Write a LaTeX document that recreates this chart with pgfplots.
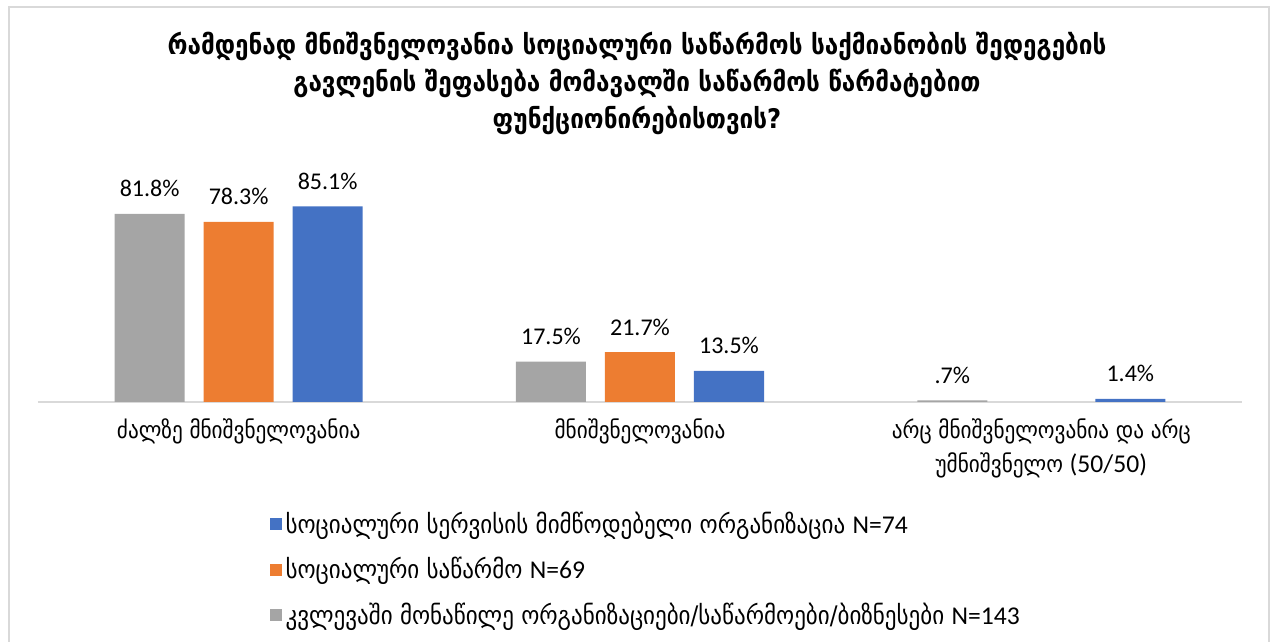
\documentclass[border=0pt]{standalone}
\usepackage{pgfplots}
\pgfplotsset{compat=1.18}
\usepackage{fontspec}
\setmainfont{Carlito}
\newfontfamily\geo{DejaVu Sans Condensed}
\definecolor{cgray}{HTML}{A5A5A5}
\definecolor{corange}{HTML}{ED7D31}
\definecolor{cblue}{HTML}{4472C4}
\definecolor{cframe}{HTML}{D9D9D9}
\newcommand{\lat}{\fontspec{Carlito}\fontsize{12.8}{14}\selectfont}
\begin{document}
\begin{tikzpicture}
\begin{axis}[
  at={(19pt,120pt)}, anchor=south west,
  scale only axis, width=602pt, height=103.5pt,
  ybar=9.5pt, bar width=35pt,
  xmin=-0.5, xmax=2.5, ymin=0, ymax=90,
  axis y line=none, axis x line*=bottom,
  x axis line style={cframe,line width=1pt,-},
  xtick={0,1,2}, major tick length=0pt,
  xticklabels={ძალზე მნიშვნელოვანია, მნიშვნელოვანია, {არც მნიშვნელოვანია და არც\\უმნიშვნელო {\lat(50/50)}}},
  xticklabel style={font=\geo\fontsize{11.8}{17}\selectfont, align=center, anchor=north, yshift=-5pt},
  clip=false,
  point meta=explicit symbolic,
  nodes near coords,
  nodes near coords style={font=\fontsize{12}{14}\selectfont, anchor=base, inner sep=0pt, yshift=8.5pt, text=black},
  legend style={at={(axis description cs:0.192,-0.51)}, anchor=north west, draw=none, fill=none,
     font=\geo\fontsize{12.8}{14}\selectfont, row sep=6.5pt, inner sep=0pt,
     /tikz/every even column/.append style={column sep=2pt}},
  legend cell align=left, reverse legend,
  legend image code/.code={\fill[#1] (0pt,-3pt) rectangle (6pt,3pt);},
]
\addplot[fill=cgray,draw=none] coordinates {(0,81.8) [81.8\%] (1,17.5) [17.5\%] (2,0.7) [.7\%]};
\addplot[fill=corange,draw=none] coordinates {(0,78.3) [78.3\%] (1,21.7) [21.7\%]};
\addplot[fill=cblue,draw=none] coordinates {(0,85.1) [85.1\%] (1,13.5) [13.5\%] (2,1.4) [1.4\%]};
\addlegendentry{კვლევაში მონაწილე ორგანიზაციები/საწარმოები/ბიზნესები {\lat N=143}}
\addlegendentry{სოციალური საწარმო {\lat N=69}}
\addlegendentry{სოციალური სერვისის მიმწოდებელი ორგანიზაცია {\lat N=74}}
\end{axis}
% title, anchored at the baseline of its last line
\node[align=center,font=\geo\bfseries\fontsize{13.5}{18.5}\selectfont,anchor=base] at (318.5pt,256.5pt)
 {რამდენად მნიშვნელოვანია სოციალური საწარმოს საქმიანობის შედეგების\\
  გავლენის შეფასება მომავალში საწარმოს წარმატებით\\
  ფუნქციონირებისთვის?};
% outer frame
\draw[cframe,line width=1pt] (4.5pt,-2pt) -- (4.5pt,317.5pt) -- (634.5pt,317.5pt) -- (634.5pt,-2pt);
% page: 1271 x 642 px at 0.5pt per px
\pgfresetboundingbox
\path[use as bounding box] (0pt,0pt) rectangle (635.5pt,321pt);
\end{tikzpicture}
\end{document}
